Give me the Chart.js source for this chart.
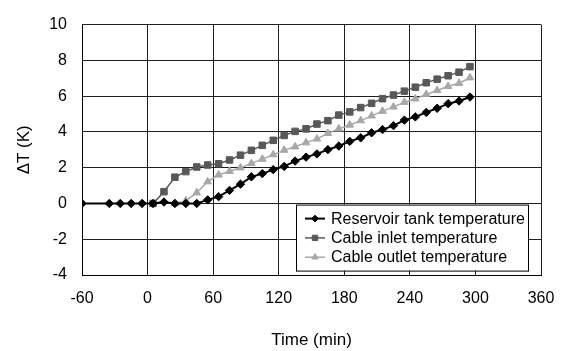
<!DOCTYPE html>
<html><head><meta charset="utf-8">
<script src="https://cdn.jsdelivr.net/npm/chart.js@4.4.1/dist/chart.umd.min.js"></script>
<style>html,body{margin:0;padding:0;background:#fff}#wrap{width:569px;height:351px;position:relative}</style>
</head><body><div id="wrap"><canvas id="c"></canvas></div>
<script>
// ---- data ----
const timeMin = [-60,-35,-25,-15,-5,5,15,25,35,45,55,65,75,85,95,105,115,125,135,145,155,165,175,185,195,205,215,225,235,245,255,265,275,285,295];
const reservoirTank = [0,0,0,0,0,0,0.08,0,0,0,0.2,0.38,0.73,1.08,1.49,1.67,1.89,2.07,2.37,2.59,2.77,3.01,3.21,3.47,3.67,3.95,4.13,4.35,4.66,4.84,5.09,5.32,5.58,5.73,5.95];
const cableInlet = [null,null,null,null,null,0,0.66,1.47,1.78,2.04,2.15,2.22,2.43,2.7,2.97,3.25,3.53,3.8,4.03,4.17,4.44,4.63,4.94,5.12,5.36,5.6,5.86,6.06,6.28,6.5,6.75,6.95,7.14,7.34,7.65];
const cableOutlet = [null,null,null,null,null,null,null,0,0.15,0.6,1.22,1.6,1.8,2.0,2.24,2.48,2.73,2.98,3.17,3.4,3.61,3.92,4.17,4.39,4.63,4.9,5.16,5.4,5.66,5.85,6.1,6.32,6.55,6.72,7.03];
const seriesNames = ['Reservoir tank temperature','Cable inlet temperature','Cable outlet temperature'];
const xTickValues = [-60,0,60,120,180,240,300,360];
const yTickValues = [-4,-2,0,2,4,6,8,10];
const xTitle = 'Time (min)';
const yTitle = '\u0394T (K)';

const FONT = '"Liberation Sans", Arial, Helvetica, sans-serif';
const styles = [
  {color:'#000000', point:'rectRot', radius:4.2, width:2},
  {color:'#585858', point:'rect', radius:4.6, width:1.5},
  {color:'#a8a8a8', point:'triangle', radius:4.4, width:1.5}
];
function toPoints(arr){ return timeMin.map((t,i)=>({x:t,y:arr[i]})).filter(p=>p.y!==null); }
const seriesValues = [reservoirTank, cableInlet, cableOutlet];
const datasets = seriesValues.map((arr,i)=>({
  label: seriesNames[i],
  data: toPoints(arr),
  borderColor: styles[i].color,
  backgroundColor: styles[i].color,
  borderWidth: styles[i].width,
  pointStyle: styles[i].point,
  pointRadius: styles[i].radius,
  pointBorderWidth: 1,
  pointBackgroundColor: styles[i].color,
  pointBorderColor: styles[i].color,
  tension: 0,
  fill: false
}));

function drawMarker(ctx, style, x, y, r){
  ctx.beginPath();
  if(style==='rectRot'){
    ctx.moveTo(x, y-r); ctx.lineTo(x+r, y); ctx.lineTo(x, y+r); ctx.lineTo(x-r, y);
  } else if(style==='rect'){
    const s = Math.SQRT1_2*r; ctx.rect(x-s, y-s, 2*s, 2*s);
  } else {
    ctx.moveTo(x, y-r); ctx.lineTo(x+r*0.866, y+r*0.5); ctx.lineTo(x-r*0.866, y+r*0.5);
  }
  ctx.closePath(); ctx.fill(); ctx.stroke();
}

const boxLegend = {
  id:'boxLegend',
  afterDatasetsDraw(chart){
    const ctx = chart.ctx, a = chart.chartArea;
    const L = a.left + 214, T = a.top + 180, W = 232, H = 66;
    ctx.save();
    ctx.fillStyle = '#fff'; ctx.fillRect(L, T, W, H);
    ctx.strokeStyle = '#000'; ctx.lineWidth = 1; ctx.strokeRect(L+0.5, T+0.5, W, H);
    ctx.font = '16px ' + FONT; ctx.textBaseline = 'middle'; ctx.textAlign = 'left';
    seriesNames.forEach((name,i)=>{
      const y = T + 14 + i*19.3;
      const st = styles[i];
      ctx.strokeStyle = st.color; ctx.fillStyle = st.color; ctx.lineWidth = st.width;
      ctx.beginPath(); ctx.moveTo(L+9, y); ctx.lineTo(L+29, y); ctx.stroke();
      ctx.lineWidth = 1;
      drawMarker(ctx, st.point, L+19, y, st.radius-0.8);
      ctx.fillStyle = '#000';
      ctx.fillText(name, L+35, y+0.5);
    });
    ctx.restore();
  }
};

new Chart(document.getElementById('c'), {
  type:'line',
  data:{ datasets },
  options:{
    responsive:true, maintainAspectRatio:false, animation:false,
    layout:{ padding:{ left:0, right:28, top:20, bottom:0 } },
    plugins:{ legend:{display:false}, tooltip:{enabled:false} },
    scales:{
      x:{
        type:'linear', min:-60, max:360,
        afterBuildTicks(s){ s.ticks = xTickValues.map(v=>({value:v})); },
        afterFit(s){ s.height = 76; },
        grid:{ color:'#1e1e1e', lineWidth:1, drawTicks:false },
        border:{ color:'#000', width:1 },
        ticks:{ padding:14, color:'#000', font:{family:FONT, size:16}, maxRotation:0, autoSkip:false },
        title:{ display:true, text:xTitle, color:'#000', font:{family:FONT, size:17}, padding:{top:0,bottom:0} }
      },
      y:{
        type:'linear', min:-4, max:10,
        afterBuildTicks(s){ s.ticks = yTickValues.map(v=>({value:v})); },
        afterFit(s){ s.width = 82; },
        grid:{ color:'#1e1e1e', lineWidth:1, drawTicks:false },
        border:{ color:'#000', width:1 },
        ticks:{ padding:15, color:'#000', font:{family:FONT, size:16} },
        title:{ display:true, text:yTitle, color:'#000', font:{family:FONT, size:17}, padding:{top:14,bottom:0} }
      }
    }
  },
  plugins:[boxLegend]
});
</script></body></html>
